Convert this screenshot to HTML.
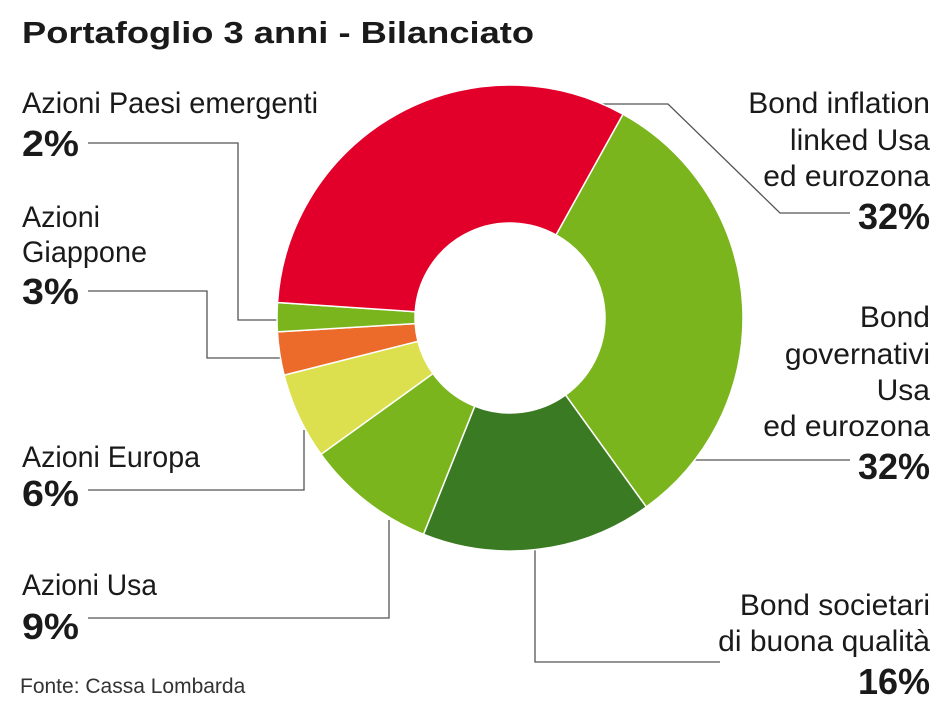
<!DOCTYPE html>
<html><head><meta charset="utf-8"><style>
html,body{margin:0;padding:0;background:#fff;}
svg{display:block;}
text{font-family:"Liberation Sans Narrow","Liberation Sans",sans-serif;fill:#1a1a1a;}
.l{font-size:30px;}
.b{font-size:36px;font-weight:bold;}
</style></head><body>
<svg id="s" width="944" height="707" viewBox="0 0 944 707" xmlns="http://www.w3.org/2000/svg">
<text x="22" y="43" style="font-family:'Liberation Sans',sans-serif;font-size:31px;font-weight:bold" textLength="512" lengthAdjust="spacingAndGlyphs">Portafoglio 3 anni - Bilanciato</text>
<g stroke="#555" stroke-width="1.3" fill="none">
<polyline points="88,143 238,143 238,320 280,320"/>
<polyline points="88,291 207,291 207,358 282,358"/>
<polyline points="88,490 304,490 304,430"/>
<polyline points="88,618 389,618 389,520"/>
<polyline points="600,104 668,104 780,213 850,213"/>
<polyline points="690,460 850,460"/>
<polyline points="535,535 535,662 720,662"/>
</g>
<g id="pie"></g>
<text class="l" x="22" y="113" textLength="296" lengthAdjust="spacingAndGlyphs">Azioni Paesi emergenti</text>
<text class="b" x="22" y="156" textLength="57" lengthAdjust="spacingAndGlyphs">2%</text>
<text class="l" x="22" y="227" textLength="78" lengthAdjust="spacingAndGlyphs">Azioni</text>
<text class="l" x="22" y="262" textLength="125" lengthAdjust="spacingAndGlyphs">Giappone</text>
<text class="b" x="22" y="304" textLength="57" lengthAdjust="spacingAndGlyphs">3%</text>
<text class="l" x="22" y="467" textLength="178" lengthAdjust="spacingAndGlyphs">Azioni Europa</text>
<text class="b" x="22" y="506" textLength="57" lengthAdjust="spacingAndGlyphs">6%</text>
<text class="l" x="22" y="595" textLength="135" lengthAdjust="spacingAndGlyphs">Azioni Usa</text>
<text class="b" x="22" y="639" textLength="57" lengthAdjust="spacingAndGlyphs">9%</text>
<g text-anchor="end">
<text class="l" x="930" y="113">Bond inflation</text>
<text class="l" x="930" y="150">linked Usa</text>
<text class="l" x="930" y="186">ed eurozona</text>
<text class="b" x="930" y="229">32%</text>
<text class="l" x="930" y="327">Bond</text>
<text class="l" x="930" y="364">governativi</text>
<text class="l" x="930" y="400">Usa</text>
<text class="l" x="930" y="436">ed eurozona</text>
<text class="b" x="930" y="479">32%</text>
<text class="l" x="930" y="615">Bond societari</text>
<text class="l" x="930" y="651">di buona qualità</text>
<text class="b" x="930" y="694">16%</text>
</g>
<text x="20" y="693" style="font-size:21px;fill:#333">Fonte: Cassa Lombarda</text>
</svg>
<script>
(function(){
var cx=510,cy=318,R=233,r=95;
var order=[[32,"#7ab51d"],[16,"#3a7a22"],[9,"#7ab51d"],[6,"#dde04e"],[3,"#ec6a2a"],[2,"#7ab51d"],[32,"#e2002a"]];
var a=29;
function p(ang,rad){var t=(ang-90)*Math.PI/180;return [(cx+rad*Math.cos(t)).toFixed(2),(cy+rad*Math.sin(t)).toFixed(2)];}
var g=document.getElementById("pie"),h="";
order.forEach(function(s){
 var b=a+s[0]*3.6,lg=(b-a)>180?1:0;
 var p1=p(a,R),p2=p(b,R),p3=p(b,r),p4=p(a,r);
 h+='<path fill="'+s[1]+'" stroke="#fff" stroke-width="1.5" d="M'+p1+' A'+R+' '+R+' 0 '+lg+' 1 '+p2+' L'+p3+' A'+r+' '+r+' 0 '+lg+' 0 '+p4+' Z"/>';
 a=b;
});
g.innerHTML=h;
})();
</script>
</body></html>
